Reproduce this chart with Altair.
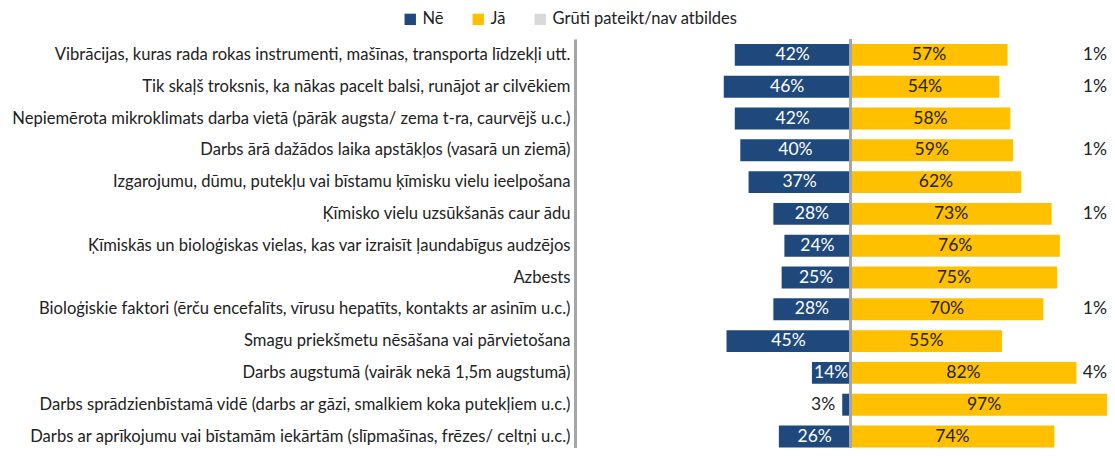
import altair as alt
import pandas as pd

categories = [
    "Vibrācijas, kuras rada rokas instrumenti, mašīnas, transporta līdzekļi utt.",
    "Tik skaļš troksnis, ka nākas pacelt balsi, runājot ar cilvēkiem",
    "Nepiemērota mikroklimats darba vietā (pārāk augsta/ zema t-ra, caurvējš u.c.)",
    "Darbs ārā dažādos laika apstākļos (vasarā un ziemā)",
    "Izgarojumu, dūmu, putekļu vai bīstamu ķīmisku vielu ieelpošana",
    "Ķīmisko vielu uzsūkšanās caur ādu",
    "Ķīmiskās un bioloģiskas vielas, kas var izraisīt ļaundabīgus audzējos",
    "Azbests",
    "Bioloģiskie faktori (ērču encefalīts, vīrusu hepatīts, kontakts ar asinīm u.c.)",
    "Smagu priekšmetu nēsāšana vai pārvietošana",
    "Darbs augstumā (vairāk nekā 1,5m augstumā)",
    "Darbs sprādzienbīstamā vidē (darbs ar gāzi, smalkiem koka putekļiem u.c.)",
    "Darbs ar aprīkojumu vai bīstamām iekārtām (slīpmašīnas, frēzes/ celtņi u.c.)",
]
ne = [42, 46, 42, 40, 37, 28, 24, 25, 28, 45, 14, 3, 26]
ja = [57, 54, 58, 59, 62, 73, 76, 75, 70, 55, 82, 97, 74]
gruti = [1, 1, 0, 1, 0, 1, 0, 0, 1, 0, 4, 0, 0]
answers = ["Nē", "Jā", "Grūti pateikt/nav atbildes"]
colors = ["#1F497D", "#FFC000", "#D9D9D9"]

rows = []
for c, n, j in zip(categories, ne, ja):
    rows.append(dict(cat=c, ans=answers[0], v=n, x0=-n, x1=0, mid=-n / 2, lbl=f"{n}%"))
    rows.append(dict(cat=c, ans=answers[1], v=j, x0=0, x1=j, mid=j / 2, lbl=f"{j}%"))
df = pd.DataFrame(rows)
gdf = pd.DataFrame({"cat": categories, "v": gruti})
gdf = gdf[gdf.v > 0].copy()
gdf["lbl"] = gdf.v.astype(str) + "%"

FONT = "Lato"
XMAX = 93.1
xscale = alt.Scale(domain=[-100, XMAX], nice=False, zero=False)
yscale = alt.Scale(paddingInner=0.31, paddingOuter=0.155, range=[0, 413.4])
yenc = alt.Y(
    "cat:N",
    sort=categories,
    title=None,
    scale=yscale,
    axis=alt.Axis(
        domainColor="#A6A6A6", domainWidth=3, ticks=False, labelPadding=5,
        labelLimit=1000, labelFontSize=16.6, labelFont=FONT, labelColor="#222222",
    ),
)
ypos = alt.Y("cat:N", sort=categories, scale=yscale)

base = alt.Chart(df)
bars = base.mark_bar(clip=True).encode(
    x=alt.X("x0:Q", scale=xscale, axis=None),
    x2="x1:Q",
    y=yenc,
    color=alt.Color(
        "ans:N",
        scale=alt.Scale(domain=answers, range=colors),
        legend=alt.Legend(
            title=None, orient="none", legendX=-173, legendY=-28, direction="horizontal",
            symbolType="square", symbolSize=130, symbolStrokeWidth=0, labelFontSize=16.5,
            labelFont=FONT, labelColor="#222222", columnPadding=26, labelOffset=4,
            labelLimit=1000,
        ),
    ),
)
rule = alt.Chart(df).mark_rule(color="#A6A6A6", strokeWidth=2).encode(x=alt.datum(0))

ne_in = base.transform_filter(
    (alt.datum.ans == answers[0]) & (alt.datum.v >= 10)
).mark_text(font=FONT, fontSize=17.5, color="white").encode(
    x=alt.X("mid:Q", scale=xscale), y=ypos, text="lbl:N"
)
ne_out = base.transform_filter(
    (alt.datum.ans == answers[0]) & (alt.datum.v < 10)
).mark_text(font=FONT, fontSize=17.5, color="#222222", align="right", dx=-7).encode(
    x=alt.X("x0:Q", scale=xscale), y=ypos, text="lbl:N"
)
ja_t = base.transform_filter(alt.datum.ans == answers[1]).mark_text(
    font=FONT, fontSize=17.5, color="#222222"
).encode(x=alt.X("mid:Q", scale=xscale), y=ypos, text="lbl:N")
gr_t = alt.Chart(gdf).mark_text(font=FONT, fontSize=17.5, color="#222222", align="right").encode(
    x=alt.datum(XMAX), y=ypos, text="lbl:N"
)

chart = alt.layer(bars, rule, ne_in, ne_out, ja_t, gr_t).properties(
    width=532, height=409,
    padding={"left": 567, "top": 31, "right": 0, "bottom": 0},
    autosize=alt.AutoSizeParams(type="none"),
).configure_view(stroke=None)

chart.save("out.html", embed_options={"renderer": "svg", "actions": False})
